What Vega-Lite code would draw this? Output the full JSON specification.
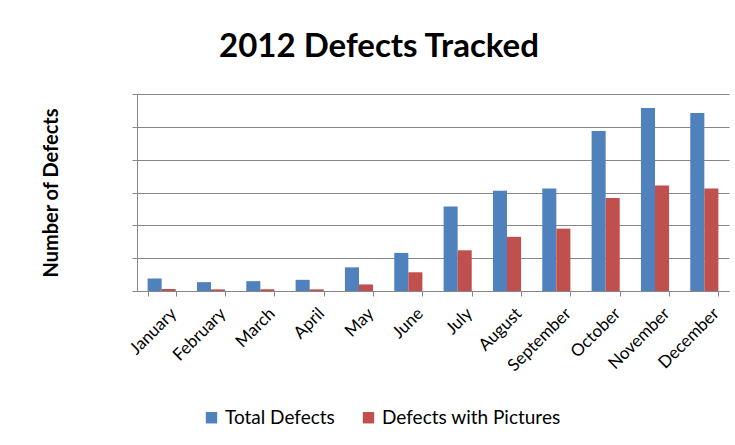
{
  "$schema": "https://vega.github.io/schema/vega-lite/v6.json",
  "width": 592,
  "height": 197,
  "padding": {"left": 41, "top": 30, "right": 10, "bottom": 5},
  "background": "white",
  "title": {"text": "2012 Defects Tracked", "font": "Lato", "fontSize": 33, "fontWeight": "bold", "color": "#000000", "offset": 30, "anchor": "middle", "dx": -54},
  "data": {"values": [
    {"month": "January", "series": "Total Defects", "value": 3.8},
    {"month": "January", "series": "Defects with Pictures", "value": 0.6},
    {"month": "February", "series": "Total Defects", "value": 2.7},
    {"month": "February", "series": "Defects with Pictures", "value": 0.5},
    {"month": "March", "series": "Total Defects", "value": 3.0},
    {"month": "March", "series": "Defects with Pictures", "value": 0.5},
    {"month": "April", "series": "Total Defects", "value": 3.4},
    {"month": "April", "series": "Defects with Pictures", "value": 0.5},
    {"month": "May", "series": "Total Defects", "value": 7.2},
    {"month": "May", "series": "Defects with Pictures", "value": 2.0},
    {"month": "June", "series": "Total Defects", "value": 11.6},
    {"month": "June", "series": "Defects with Pictures", "value": 5.7},
    {"month": "July", "series": "Total Defects", "value": 25.7},
    {"month": "July", "series": "Defects with Pictures", "value": 12.4},
    {"month": "August", "series": "Total Defects", "value": 30.5},
    {"month": "August", "series": "Defects with Pictures", "value": 16.5},
    {"month": "September", "series": "Total Defects", "value": 31.2},
    {"month": "September", "series": "Defects with Pictures", "value": 19.0},
    {"month": "October", "series": "Total Defects", "value": 48.7},
    {"month": "October", "series": "Defects with Pictures", "value": 28.3},
    {"month": "November", "series": "Total Defects", "value": 55.7},
    {"month": "November", "series": "Defects with Pictures", "value": 32.1},
    {"month": "December", "series": "Total Defects", "value": 54.2},
    {"month": "December", "series": "Defects with Pictures", "value": 31.2}
  ]},
  "mark": {"type": "bar"},
  "encoding": {
    "x": {"field": "month", "type": "nominal", "sort": null,
      "scale": {"paddingInner": 0.43, "paddingOuter": 0.215},
      "axis": {"title": null, "labelAngle": -45, "labelFont": "Lato", "labelFontSize": 17, "labelColor": "#000000", "domainColor": "#868686", "tickColor": "#868686", "tickBand": "extent", "tickSize": 5, "labelPadding": 9, "labelOffset": 6}},
    "xOffset": {"field": "series", "type": "nominal", "sort": ["Total Defects", "Defects with Pictures"]},
    "y": {"field": "value", "type": "quantitative",
      "scale": {"domain": [0, 60]},
      "axis": {"values": [0, 10, 20, 30, 40, 50, 60], "labels": false, "title": "Number of Defects", "titleFont": "Lato", "titleFontSize": 20, "titleFontWeight": "bold", "titleColor": "#000000", "titlePadding": 70, "gridColor": "#868686", "gridWidth": 1, "domainColor": "#868686", "tickColor": "#868686", "tickSize": 5}},
    "color": {"field": "series", "type": "nominal", "sort": ["Total Defects", "Defects with Pictures"],
      "scale": {"domain": ["Total Defects", "Defects with Pictures"], "range": ["#4F81BD", "#C0504D"]},
      "legend": {"orient": "none", "legendX": 65, "legendY": 314, "direction": "horizontal", "title": null, "symbolType": "square", "symbolSize": 130, "labelFont": "Lato", "labelFontSize": 19, "labelColor": "#000000", "labelLimit": 400, "columnPadding": 24, "symbolStrokeWidth": 0}}
  },
  "config": {"view": {"stroke": null}}
}
